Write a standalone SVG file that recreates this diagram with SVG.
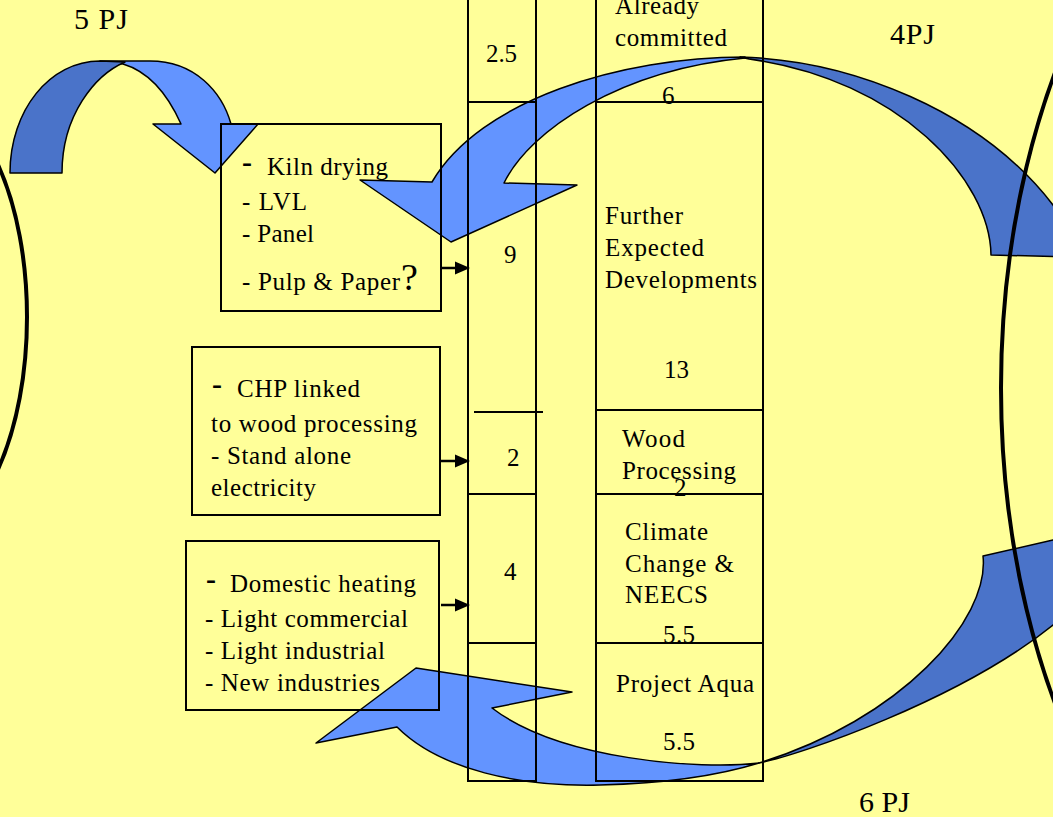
<svg xmlns="http://www.w3.org/2000/svg" width="1053" height="817" viewBox="0 0 1053 817">
<style>
text{font-family:"Liberation Serif","Times New Roman",serif;font-size:25px;fill:#000}
.pj{font-size:30px}
.dash{font-size:30px;font-weight:bold}
.light{fill:#6394FF;stroke:#000;stroke-width:1.5;stroke-linejoin:round}
.dark{fill:#4A73C9;stroke:#000;stroke-width:1.5;stroke-linejoin:round}
.ell{fill:none;stroke:#000;stroke-width:4}
.col{fill:none;stroke:#000;stroke-width:2}
.box{fill:none;stroke:#000;stroke-width:2}
.conn{stroke:#000;stroke-width:2.5}
</style>
<rect x="0" y="0" width="1053" height="817" fill="#FFFF99"/>

<g id="flows">
  <g id="arrow-5pj">
    <path class="light" d="M100 61 L150 61 C195 61 222 92 231 124 L258 124 L215 173 L153 124 L181 124 C168 95 150 72 123 64 Z"/>
    <path class="dark" d="M10 173 C10 110 50 61 100 61 L125 62 C95 75 62 115 62 173 Z"/>
  </g>
  <g id="arrow-4pj">
    <path class="light" d="M745 57 C620 57 480 100 432 182 L360 180 L451 242 L577 185 L504 183 C530 130 620 70 745 58 Z"/>
    <path class="dark" d="M740 57 C850 60 980 110 1053 205 L1075 240 L1075 257 L991 255 C990 180 900 80 749 59 Z"/>
  </g>
  <g id="arrow-6pj">
    <path class="light" d="M759 763 C700 770 560 760 492 708 L572 692 L416 668 L316 743 L397 727 C440 770 520 787 600 785 C680 783 730 772 759 763 Z"/>
    <path class="dark" d="M1053 540 L983 556 C990 620 900 720 759 763 C800 755 960 700 1053 625 L1075 600 L1075 535 Z"/>
  </g>
</g>

<g id="loops">
  <ellipse class="ell" cx="-77" cy="317" rx="104" ry="220"/>
  <ellipse class="ell" cx="1363" cy="388" rx="362" ry="600"/>
</g>

<g id="col-left">
  <rect class="col" x="468" y="-5" width="68" height="786"/>
  <line class="col" x1="468" y1="102" x2="536" y2="102"/>
  <line class="col" x1="474" y1="412" x2="543" y2="412"/>
  <line class="col" x1="468" y1="494" x2="536" y2="494"/>
  <line class="col" x1="468" y1="643" x2="536" y2="643"/>
  <text x="486" y="62" textLength="31">2.5</text>
  <text x="504" y="263">9</text>
  <text x="507" y="466">2</text>
  <text x="504" y="580">4</text>
</g>

<g id="col-right">
  <rect class="col" x="596" y="-5" width="167" height="786"/>
  <line class="col" x1="596" y1="102" x2="763" y2="102"/>
  <line class="col" x1="596" y1="410" x2="763" y2="410"/>
  <line class="col" x1="596" y1="494" x2="763" y2="494"/>
  <line class="col" x1="596" y1="643" x2="763" y2="643"/>
  <text x="615" y="14" textLength="84">Already</text>
  <text x="615" y="46" textLength="112">committed</text>
  <text x="662" y="104">6</text>
  <text x="605" y="224" textLength="78">Further</text>
  <text x="605" y="256" textLength="99">Expected</text>
  <text x="605" y="288" textLength="152">Developments</text>
  <text x="664" y="378" textLength="25">13</text>
  <text x="622" y="447" textLength="63">Wood</text>
  <text x="622" y="479" textLength="114">Processing</text>
  <text x="674" y="496">2</text>
  <text x="625" y="540" textLength="83">Climate</text>
  <text x="625" y="572" textLength="109">Change &amp;</text>
  <text x="625" y="603" textLength="83">NEECS</text>
  <text x="663" y="643" textLength="32">5.5</text>
  <text x="616" y="692" textLength="138">Project Aqua</text>
  <text x="663" y="750" textLength="32">5.5</text>
</g>

<g id="box-wood">
  <rect class="box" x="221" y="124" width="220" height="187"/>
  <text class="dash" x="242" y="172">-</text>
  <text x="267" y="175" textLength="121">Kiln drying</text>
  <text x="242" y="210" textLength="65">- LVL</text>
  <text x="242" y="242" textLength="72">- Panel</text>
  <text x="242" y="290" textLength="158">- Pulp &amp; Paper</text>
  <text x="401" y="290" style="font-size:38px">?</text>
</g>

<g id="box-chp">
  <rect class="box" x="192" y="347" width="248" height="168"/>
  <text class="dash" x="212" y="394">-</text>
  <text x="237" y="397" textLength="123">CHP linked</text>
  <text x="211" y="432" textLength="206">to wood processing</text>
  <text x="211" y="464" textLength="140">- Stand alone</text>
  <text x="211" y="496" textLength="105">electricity</text>
</g>

<g id="box-heat">
  <rect class="box" x="186" y="541" width="253" height="169"/>
  <text class="dash" x="206" y="589">-</text>
  <text x="230" y="592" textLength="186">Domestic heating</text>
  <text x="205" y="627" textLength="203">- Light commercial</text>
  <text x="205" y="659" textLength="180">- Light industrial</text>
  <text x="205" y="691" textLength="175">- New industries</text>
</g>

<g id="connectors">
  <line class="conn" x1="441" y1="268" x2="457" y2="268"/>
  <polygon points="455,261.5 470,268 455,274.5"/>
  <line class="conn" x1="441" y1="461" x2="457" y2="461"/>
  <polygon points="455,454.5 470,461 455,467.5"/>
  <line class="conn" x1="441" y1="605" x2="457" y2="605"/>
  <polygon points="455,598.5 470,605 455,611.5"/>
</g>

<g id="labels">
  <text class="pj" x="74" y="29" textLength="54">5 PJ</text>
  <text class="pj" x="890" y="44" textLength="45">4PJ</text>
  <text class="pj" x="859" y="812" textLength="51">6 PJ</text>
</g>
</svg>
